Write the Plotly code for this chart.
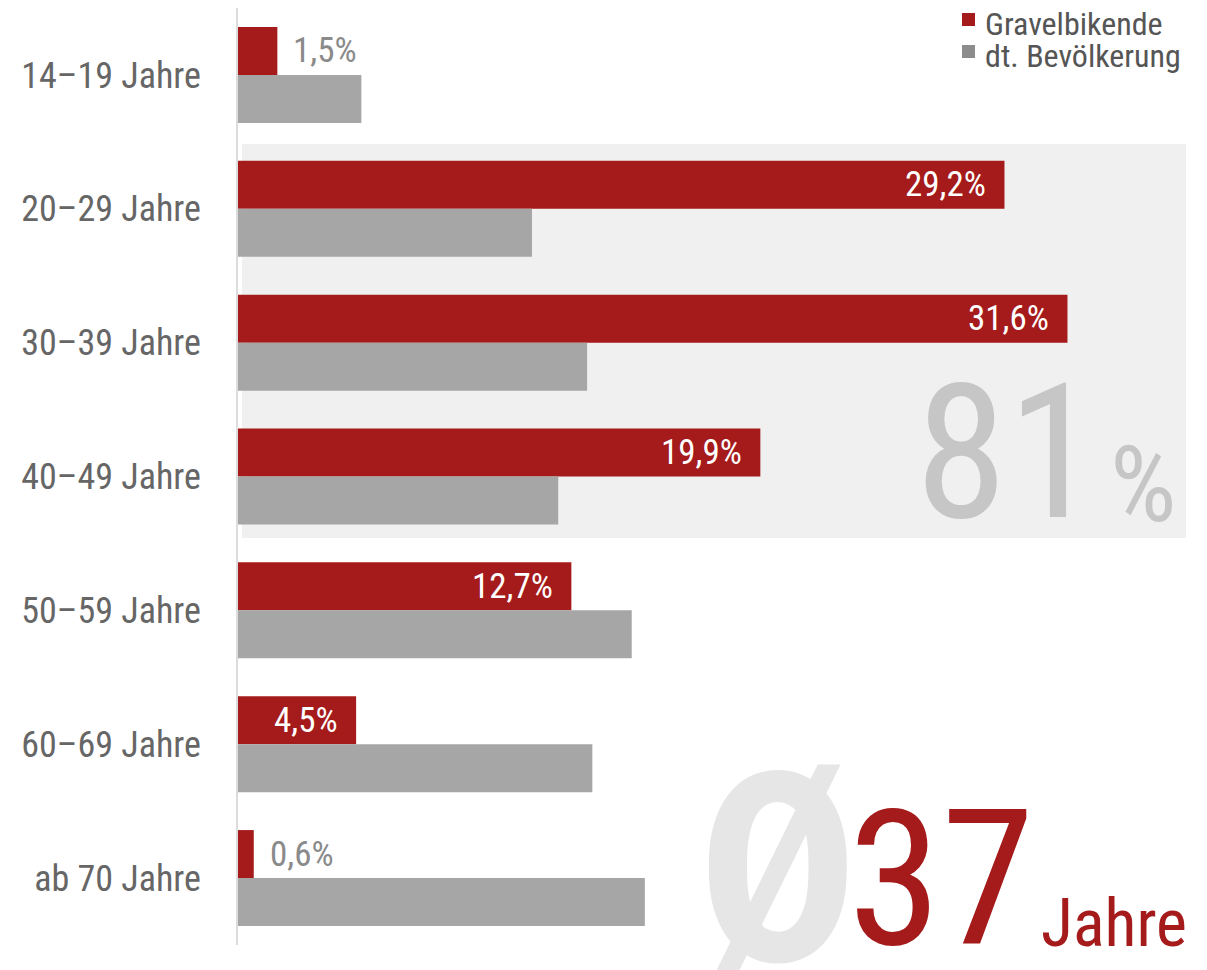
import plotly.graph_objects as go

# Altersverteilung: Gravelbikende vs. deutsche Bevölkerung (in %)
categories = ["14–19 Jahre", "20–29 Jahre", "30–39 Jahre", "40–49 Jahre",
              "50–59 Jahre", "60–69 Jahre", "ab 70 Jahre"]
gravel = [1.5, 29.2, 31.6, 19.9, 12.7, 4.5, 0.6]
bevoelkerung = [4.7, 11.2, 13.3, 12.2, 15.0, 13.5, 15.5]

share_20_49 = "81"
avg_age = "37"

RED = "#a51a1a"
GREY = "#a6a6a6"
FONT = "Roboto Condensed, Liberation Sans Narrow, DejaVu Sans Condensed, sans-serif"

# page body has an 8px margin, so the figure sits at (8, 8) in the window
OFF = 8
W, H = 1207 - OFF, 970 - OFF
ML, MR, MT, MB = 238 - OFF, 18, 0, 25
PW, PH = W - ML - MR, H - MT - MB


def px(x):
    # window pixel -> paper x
    return (x - OFF - ML) / PW


def py(y):
    # window pixel -> paper y
    return (H - MB - (y - OFF)) / PH


fig = go.Figure()
fig.add_trace(go.Bar(y=categories, x=gravel, orientation="h", name="Gravelbikende",
                     marker=dict(color=RED, line=dict(width=0)), showlegend=False))
fig.add_trace(go.Bar(y=categories, x=bevoelkerung, orientation="h", name="dt. Bevölkerung",
                     marker=dict(color=GREY, line=dict(width=0)), showlegend=False))

annotations = []
for cat, v in zip(categories, gravel):
    label = f"{v:.1f}".replace(".", ",") + "%"
    if v >= 3:
        annotations.append(dict(x=v, y=cat, text=label, showarrow=False, xanchor="right",
                                xshift=-16, yshift=24, font=dict(size=35, color="white")))
    else:
        annotations.append(dict(x=v, y=cat, text=label, showarrow=False, xanchor="left",
                                xshift=14, yshift=24, font=dict(size=35, color="#8a8a8a")))

# big callouts
annotations += [
    dict(x=px(1007), y=py(453), xref="paper", yref="paper", text=share_20_49, showarrow=False,
         xanchor="center", yanchor="middle", font=dict(size=187, color="#c6c6c6")),
    dict(x=px(1143), y=py(486), xref="paper", yref="paper", text="%", showarrow=False,
         xanchor="center", yanchor="middle", font=dict(size=105, color="#c6c6c6")),
    dict(x=px(777), y=py(870), xref="paper", yref="paper", text="Ø", showarrow=False,
         xanchor="center", yanchor="middle", font=dict(size=265, color="#e6e6e6", weight="bold")),
    dict(x=px(941), y=py(880), xref="paper", yref="paper", text=avg_age, showarrow=False,
         xanchor="center", yanchor="middle", font=dict(size=189, color=RED)),
    dict(x=px(1114), y=py(923), xref="paper", yref="paper", text="Jahre", showarrow=False,
         xanchor="center", yanchor="middle", font=dict(size=66, color=RED)),
    # legend
    dict(x=px(983), y=py(24), xref="paper", yref="paper", text="Gravelbikende", showarrow=False,
         xanchor="left", yanchor="middle", font=dict(size=32, color="#555555")),
    dict(x=px(983), y=py(56), xref="paper", yref="paper", text="dt. Bevölkerung", showarrow=False,
         xanchor="left", yanchor="middle", font=dict(size=32, color="#555555")),
]

shapes = [
    dict(type="rect", xref="paper", yref="paper", x0=px(242), x1=px(1186), y0=py(538), y1=py(144),
         fillcolor="#f0f0f0", line=dict(width=0), layer="below"),
    dict(type="rect", xref="paper", yref="paper", x0=px(962), x1=px(975), y0=py(26), y1=py(13),
         fillcolor=RED, line=dict(width=0)),
    dict(type="rect", xref="paper", yref="paper", x0=px(962), x1=px(975), y0=py(58), y1=py(45),
         fillcolor="#8c8c8c", line=dict(width=0)),
]

fig.update_layout(
    width=W, height=H,
    margin=dict(l=ML, r=MR, t=MT, b=MB, autoexpand=False),
    barmode="group", bargap=0.283, bargroupgap=0,
    plot_bgcolor="white", paper_bgcolor="white",
    font=dict(family=FONT),
    annotations=annotations,
    shapes=shapes,
    xaxis=dict(range=[0, 36.23], visible=False, fixedrange=True, automargin=False),
    yaxis=dict(autorange="reversed", showgrid=False, zeroline=False, showline=True,
               linecolor="#dcdcdc", linewidth=2, ticks="", ticklabelstandoff=28,
               automargin=False, tickfont=dict(size=36, color="#666666")),
)

fig.write_html("out.html")
